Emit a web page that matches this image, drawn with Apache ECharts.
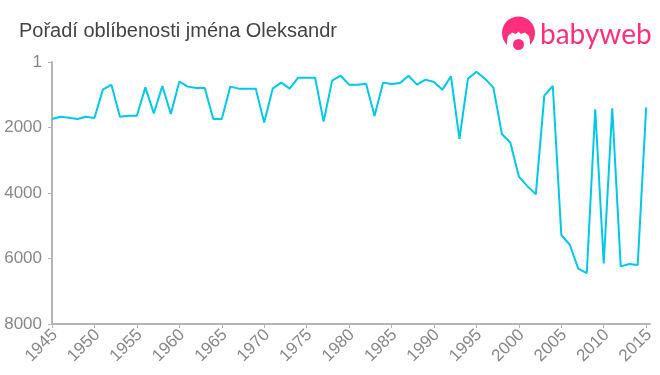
<!DOCTYPE html>
<html><head><meta charset="utf-8">
<style>html,body{margin:0;padding:0;background:#fff}#c{width:660px;height:375px}</style>
<script src="https://cdn.jsdelivr.net/npm/echarts@6/dist/echarts.min.js"></script></head>
<body><div id="c"></div>
<script>
const titleText = 'Pořadí oblíbenosti jména Oleksandr';
const brandText = 'babyweb';
const years = [1945,1946,1947,1948,1949,1950,1951,1952,1953,1954,1955,1956,1957,1958,1959,1960,1961,1962,1963,1964,1965,1966,1967,1968,1969,1970,1971,1972,1973,1974,1975,1976,1977,1978,1979,1980,1981,1982,1983,1984,1985,1986,1987,1988,1989,1990,1991,1992,1993,1994,1995,1996,1997,1998,1999,2000,2001,2002,2003,2004,2005,2006,2007,2008,2009,2010,2011,2012,2013,2014,2015];
const ranks = [1740,1670,1700,1740,1670,1710,845,693,1670,1640,1640,775,1570,733,1590,600,753,794,794,1740,1740,753,814,814,814,1850,814,631,814,480,480,480,1820,570,420,693,693,663,1650,631,672,641,420,693,540,611,845,437,2350,510,296,510,785,2200,2465,3500,3790,4040,1030,733,5283,5580,6310,6450,1445,6150,1415,6240,6170,6200,1385];
const xTicks = [1945,1950,1955,1960,1965,1970,1975,1980,1985,1990,1995,2000,2005,2010,2015];
const yTicks = [1,2000,4000,6000,8000];
const chart = echarts.init(document.getElementById('c'), null, {renderer:'canvas'});
const axisGrey = '#b5b5b5', labelGrey = '#888888', pink = '#ff2f7e';
chart.setOption({
  animation:false,
  backgroundColor:'#fff',
  title:{text:titleText,left:19,top:21,textStyle:{fontFamily:'Liberation Sans',fontSize:20,fontWeight:'normal',color:'#444'},padding:0},
  grid:{left:52,top:62,width:598,height:262,containLabel:false},
  xAxis:{type:'value',min:1945,max:2015.45,
    axisLine:{show:true,onZero:false,lineStyle:{color:axisGrey,width:2}},
    axisTick:{show:true,length:4,lineStyle:{color:axisGrey,width:1},customValues:xTicks},
    splitLine:{show:false},
    axisLabel:{customValues:xTicks,rotate:45,color:labelGrey,fontFamily:'Liberation Sans',fontSize:17,margin:11,padding:[0,-4,0,0],formatter:v=>String(v)}},
  yAxis:{type:'value',inverse:true,min:1,max:8000,
    axisLine:{show:true,onZero:false,lineStyle:{color:axisGrey,width:2}},
    axisTick:{show:true,length:4,lineStyle:{color:axisGrey,width:1},customValues:yTicks},
    splitLine:{show:false},
    axisLabel:{customValues:yTicks,color:labelGrey,fontFamily:'Liberation Sans',fontSize:17,margin:10,formatter:v=>String(v)}},
  series:[{type:'line',data:years.map((y,i)=>[y,ranks[i]]),showSymbol:false,symbol:'none',lineStyle:{color:'#00c8e8',width:2},clip:false}],
  graphic:[
    {type:'circle',shape:{cx:518.5,cy:33,r:16.5},style:{fill:pink}},
    {type:'polygon',shape:{points:[[507,52],[507,41],[508,36],[512,32.5],[516,34],[518.5,31.5],[521,34],[525,32.5],[529,36],[530,41],[530,52]]},style:{fill:'#fff'}},
    {type:'circle',shape:{cx:518.5,cy:44.5,r:5.5},style:{fill:pink}},
    {type:'text',style:{x:540,y:35,text:brandText,fill:pink,fontFamily:'Lato',fontSize:28,verticalAlign:'middle'}}
  ]
});
</script></body></html>
